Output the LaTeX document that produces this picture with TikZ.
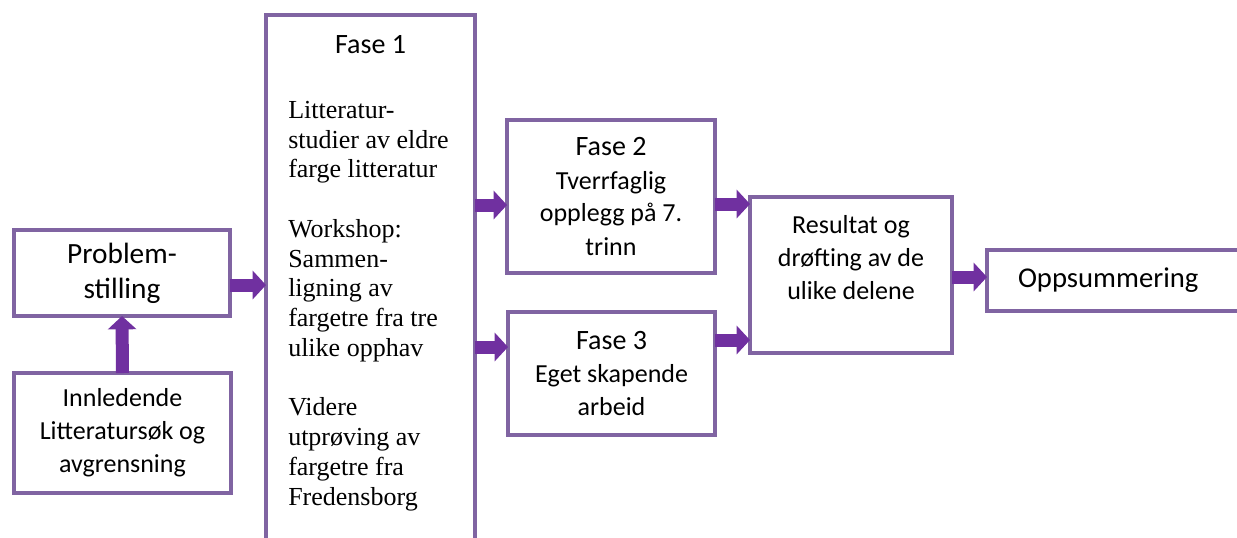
\documentclass[tikz,border=0pt]{standalone}
\usepackage{fontspec}
\setmainfont{Carlito}
\newfontfamily\timesfont{Liberation Serif}
\usetikzlibrary{arrows.meta,positioning}
\definecolor{boxpurple}{RGB}{128,100,162}
\definecolor{arrowpurple}{RGB}{112,48,160}
\tikzstyle{phasebox} = [draw=boxpurple, line width=3pt, outer sep=0pt, fill=white, align=center, font=\fontsize{19.5}{24.75}\selectfont]
\tikzstyle{blockarrow} = [arrowpurple, line width=9.75pt, -{Triangle[length=10pt,width=21pt]}]
\newcommand{\fasehead}[1]{{\fontsize{21}{26}\selectfont #1}}

\begin{document}
\begin{tikzpicture}[x=0.75pt, y=-0.75pt]
\useasboundingbox (0,0) rectangle (1237,537);
\clip (0,0) rectangle (1237,537);

% Left column
\node[phasebox, minimum width=162pt, minimum height=64.5pt, font=\fontsize{22}{26.25}\selectfont] (problem) at (122,273) {Problem-\\stilling};
\node[phasebox, minimum width=163pt, minimum height=90pt] (innledende) at (122.5,433) {Innledende\\Litteraturs\o k og\\avgrensning};

% Fase 1 (runs past the lower edge)
\node[phasebox, anchor=north west, minimum width=156.75pt, minimum height=450pt] (fase1) at (266,15) {};
\node[font=\fontsize{21}{26}\selectfont, anchor=base] (fase1title) at (370.5,53) {Fase 1};
\node[anchor=north west, inner sep=0pt, align=left, font=\timesfont\fontsize{19.5}{22.3}\selectfont] (fase1text) at (288,101) {Litteratur-\\studier av eldre\\farge litteratur\\[22.3pt]Workshop:\\Sammen-\\ligning av\\fargetre fra tre\\ulike opphav\\[22.3pt]Videre\\utpr\o ving av\\fargetre fra\\Fredensborg};

% Fase 2 and 3
\node[phasebox, minimum width=156pt, minimum height=114.75pt] (fase2) at (611,196.5) {\fasehead{Fase 2}\\Tverrfaglig\\opplegg p\aa{} 7.\\trinn};
\node[phasebox, minimum width=155.25pt, minimum height=92.25pt] (fase3) at (611.5,373.5) {\fasehead{Fase 3}\\Eget skapende\\arbeid};

% Results and summary
\node[phasebox, minimum width=151.5pt, minimum height=117pt] (resultat) at (851,275) {};
\node[font=\fontsize{19.5}{24.75}\selectfont, align=center, anchor=north] (resultattext) at (851,211) {Resultat og\\dr\o fting av de\\ulike delene};
\node[phasebox, anchor=west, minimum height=45.75pt, inner xsep=23.25pt, text width=180pt, align=left, font=\fontsize{21.5}{26}\selectfont] (opps) at (987,280.5) {Oppsummering};

% Arrows
\draw[blockarrow] (innledende.north) -- (problem.south);
\draw[blockarrow] (problem.east |- 0,285) -- (fase1.west |- 0,285);
\draw[blockarrow] (fase1.east |- 0,205) -- (fase2.west |- 0,205);
\draw[blockarrow] (fase1.east |- 0,347) -- (fase3.west |- 0,347);
\draw[blockarrow] (fase2.east |- 0,204) -- (resultat.west |- 0,204);
\draw[blockarrow] (fase3.east |- 0,340) -- (resultat.west |- 0,340);
\draw[blockarrow] (resultat.east |- 0,277) -- (opps.west |- 0,277);
\end{tikzpicture}
\end{document}
